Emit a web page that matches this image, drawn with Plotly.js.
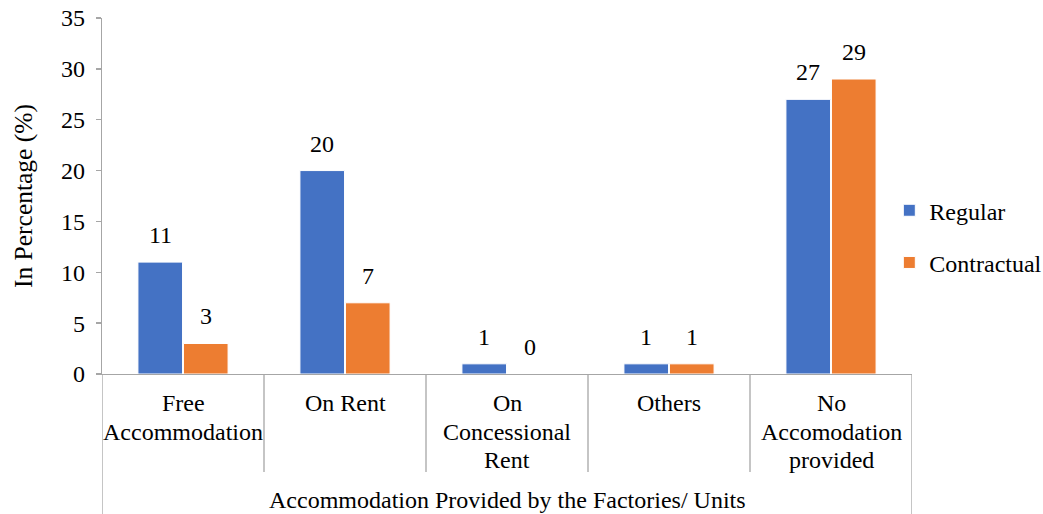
<!DOCTYPE html>
<html>
<head>
<meta charset="utf-8">
<script src="https://cdn.plot.ly/plotly-3.0.1.min.js"></script>
<style>html,body{margin:0;padding:0;background:#fff;}#chart{width:1043px;height:514px;}</style>
</head>
<body>
<div id="chart"></div>
<script>
const categories = ["Free<br>Accommodation", "On Rent", "On<br>Concessional<br>Rent", "Others", "No<br>Accomodation<br>provided"];
const regular = [11, 20, 1, 1, 27];
const contractual = [3, 7, 0, 1, 29];
const seriesNames = ["Regular", "Contractual"];
const yTicks = [0, 5, 10, 15, 20, 25, 30, 35];
const xTitle = "Accommodation Provided by the Factories/ Units";
const yTitle = "In Percentage (%)";

const FONT = "Liberation Serif, Times New Roman, serif";
const GRAY = "#a6a6a6";
const FS = 24;
const PLOT_H = 356; // plot area height in px
const idx = categories.map((_, i) => i);

const traces = [
  {type: "bar", name: seriesNames[0], x: idx, y: regular, marker: {color: "#4472C4", line: {color: "#ffffff", width: 1}}, legendgroup: "a", hoverinfo: "y"},
  {type: "bar", name: seriesNames[1], x: idx, y: contractual, marker: {color: "#ED7D31", line: {color: "#ffffff", width: 1}}, legendgroup: "b", hoverinfo: "y"}
];

const annotations = [];
[regular, contractual].forEach((arr, s) => {
  arr.forEach((v, i) => {
    annotations.push({x: i, y: v, xref: "x", yref: "y", text: String(v), showarrow: false,
      xanchor: "center", yanchor: "bottom", xshift: s === 0 ? -22.75 : 22.75, yshift: 12,
      font: {family: FONT, size: FS, color: "#000"}});
  });
});

// category labels, one line per annotation for tighter line spacing
categories.forEach((c, i) => {
  c.split("<br>").forEach((line, j) => {
    annotations.push({x: i, xref: "x", yref: "paper", y: -(29 + j * 28.5) / PLOT_H, text: line, showarrow: false,
      xanchor: "center", yanchor: "middle", font: {family: FONT, size: FS, color: "#000"}});
  });
});
// axis title
annotations.push({x: 0.5, xref: "paper", yref: "paper", y: -126 / PLOT_H, text: xTitle, showarrow: false,
  xanchor: "center", yanchor: "middle", font: {family: FONT, size: FS, color: "#000"}});

const shapes = [];
for (let i = 0; i <= categories.length; i++) {
  const outer = (i === 0 || i === categories.length);
  shapes.push({type: "line", xref: "x", yref: "paper", x0: i - 0.5, x1: i - 0.5, y0: 0, y1: outer ? -0.40 : -0.275,
    line: {color: GRAY, width: 1.3}});
}

const layout = {
  width: 1043, height: 514,
  margin: {l: 102, r: 131, t: 18, b: 140, autoexpand: false},
  paper_bgcolor: "#fff", plot_bgcolor: "#fff",
  font: {family: FONT, size: FS, color: "#000"},
  barmode: "group", bargap: 0.438, bargroupgap: 0.02,
  showlegend: true,
  legend: {x: 0.972, xanchor: "left", y: 0.522, yanchor: "top", font: {family: FONT, size: FS, color: "#000"},
    traceorder: "grouped", tracegroupgap: 18, itemwidth: 30, bgcolor: "rgba(0,0,0,0)"},
  xaxis: {
    range: [-0.5, categories.length - 0.5], tickvals: idx, showticklabels: false, ticks: "",
    showline: true, linecolor: GRAY, linewidth: 1.3, showgrid: false, zeroline: false
  },
  yaxis: {
    range: [0, 35], tickvals: yTicks, ticks: "outside", ticklen: 5, tickcolor: GRAY, tickwidth: 1.3,
    showline: true, linecolor: GRAY, linewidth: 1.3, showgrid: false, zeroline: false,
    tickfont: {family: FONT, size: FS, color: "#000"}, ticklabelstandoff: 6,
    title: {text: yTitle, font: {family: FONT, size: 25.5, color: "#000"}, standoff: 21}
  },
  annotations: annotations,
  shapes: shapes
};

Plotly.newPlot("chart", traces, layout, {displayModeBar: false, staticPlot: true});
</script>
</body>
</html>
